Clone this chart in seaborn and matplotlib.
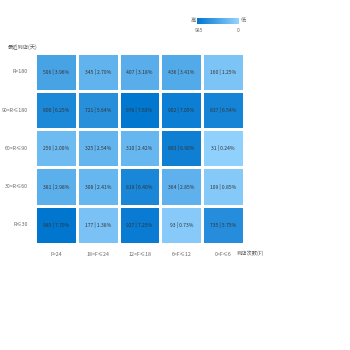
import numpy as np
import pandas as pd
import matplotlib
matplotlib.use("Agg")
import matplotlib.pyplot as plt
import seaborn as sns
from matplotlib.colors import LinearSegmentedColormap

sns.set_theme(style="white")
plt.rcParams['font.family'] = ['Noto Sans CJK SC', 'DejaVu Sans']

r_labels = ["R>180", "90<R≤180", "60<R≤90", "30<R≤60", "R≤30"]
f_labels = ["F>24", "18<F≤24", "12<F≤18", "6<F≤12", "0<F≤6"]
counts = [
    [506, 345, 407, 436, 160],
    [800, 721, 976, 902, 837],
    [256, 325, 310, 883, 31],
    [381, 308, 819, 364, 109],
    [985, 177, 927, 93, 735],
]
pcts = [
    ["3.96%", "2.70%", "3.18%", "3.41%", "1.25%"],
    ["6.25%", "5.64%", "7.63%", "7.05%", "6.54%"],
    ["2.00%", "2.54%", "2.42%", "6.90%", "0.24%"],
    ["2.98%", "2.41%", "6.40%", "2.85%", "0.85%"],
    ["7.70%", "1.38%", "7.25%", "0.73%", "5.75%"],
]
y_title = "最近到店(天)"
x_title = "到店次数(F)"

df = pd.DataFrame(counts, index=r_labels, columns=f_labels)
annot = np.array([[f"{c} | {p}" for c, p in zip(cr, pr)] for cr, pr in zip(counts, pcts)])

cmap = LinearSegmentedColormap.from_list("b", ["#95d3fd", "#0076cf"])

fig = plt.figure(figsize=(3.5, 3.5), dpi=100)
W = H = 350.0
ax = fig.add_axes([35 / W, 1 - 244 / H, 209 / W, (244 - 52.7) / H])
cax = fig.add_axes([197 / W, 1 - 23.5 / H, 42 / W, 5.5 / H])

vmin, vmax = 0, max(max(r) for r in counts)
sns.heatmap(df, ax=ax, cmap=cmap, vmin=vmin, vmax=vmax, annot=annot, fmt="",
            annot_kws={"fontsize": 3.6, "color": "#333333"},
            linewidths=0.9, linecolor="white", cbar=True, cbar_ax=cax,
            cbar_kws={"orientation": "horizontal"})

ax.tick_params(axis="both", length=0, labelsize=3.8, colors="#666666", pad=5)
ax.set_xlabel("")
ax.set_ylabel("")
plt.setp(ax.get_yticklabels(), rotation=0)
plt.setp(ax.get_xticklabels(), rotation=0)
ax.tick_params(axis="x", pad=6)

fig.text(8 / W, 1 - 47.5 / H, y_title, fontsize=3.8, color="#555555", va="center", ha="left")
fig.text(237 / W, 1 - 253 / H, x_title, fontsize=3.8, color="#555555", va="center", ha="left")

cax.invert_xaxis()
cax.set_xticks([])
cax.set_yticks([])
for s in cax.spines.values():
    s.set_visible(False)
fig.text(193 / W, 1 - 20.5 / H, "高", fontsize=3.8, color="#666666", va="center", ha="center")
fig.text(244 / W, 1 - 20.5 / H, "低", fontsize=3.8, color="#666666", va="center", ha="center")
fig.text(199 / W, 1 - 31 / H, str(vmax), fontsize=3.6, color="#666666", va="center", ha="center")
fig.text(238 / W, 1 - 31 / H, str(vmin), fontsize=3.6, color="#666666", va="center", ha="center")

fig.savefig("out.png", dpi=100, facecolor="white")
